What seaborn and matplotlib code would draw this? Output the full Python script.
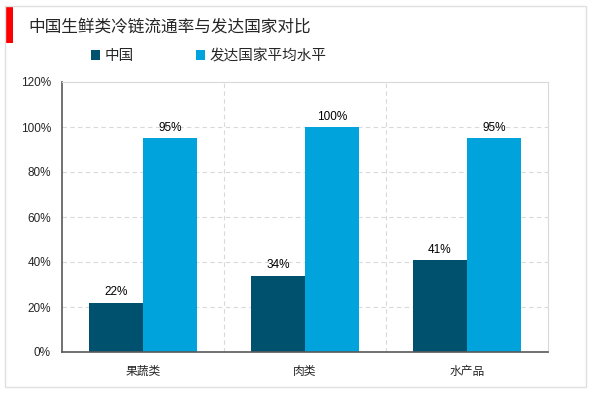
import pandas as pd
import numpy as np
import matplotlib
matplotlib.use('Agg')
import matplotlib.pyplot as plt
from matplotlib.patches import Rectangle, Patch
import seaborn as sns

# data
categories = ['果蔬类', '肉类', '水产品']
series_names = ['中国', '发达国家平均水平']
china = [22, 34, 41]
developed = [95, 100, 95]
y_ticks = [0, 20, 40, 60, 80, 100, 120]
colors = ['#00516E', '#00A3DB']
title = '中国生鲜类冷链流通率与发达国家对比'

df = pd.DataFrame({
    'category': categories * 2,
    'series': [series_names[0]] * 3 + [series_names[1]] * 3,
    'value': china + developed,
})

sns.set_theme(style='white')
plt.rcParams['font.family'] = ['Liberation Sans', 'Noto Sans CJK SC', 'DejaVu Sans']

W, H = 600, 393
fig = plt.figure(figsize=(6, 3.93), dpi=100)
ax = fig.add_axes([62 / W, 1 - 352 / H, (548 - 62) / W, (352 - 82) / H])

sns.barplot(data=df, x='category', y='value', hue='series', order=categories,
            hue_order=series_names, palette=colors, width=0.667, saturation=1,
            ax=ax, legend=False, linewidth=0)

for cont in ax.containers:
    ax.bar_label(cont, labels=[f'{v:.0f}%' for v in cont.datavalues],
                 padding=3, fontsize=8.5, color='#000000')

ax.set_ylim(0, 120)
ax.set_xlim(-0.5, 2.5)
ax.set_yticks(y_ticks)
ax.set_yticklabels([f'{t}%' for t in y_ticks], fontsize=8.5)
ax.tick_params(axis='x', labelsize=8.5, pad=10, length=0)
ax.tick_params(axis='y', pad=8, length=0)
ax.set_xlabel('')
ax.set_ylabel('')

# grid
for t in y_ticks[1:-1]:
    ax.axhline(t, color='#d9d9d9', lw=0.8, ls=(0, (4, 3)), zorder=0)
for xb in [0.5, 1.5]:
    ax.axvline(xb, color='#d9d9d9', lw=0.8, ls=(0, (4, 3)), zorder=0)

for s in ['left', 'bottom']:
    ax.spines[s].set_color('#595959')
    ax.spines[s].set_linewidth(1.2)
for s in ['top', 'right']:
    ax.spines[s].set_color('#d9d9d9')
    ax.spines[s].set_linewidth(0.8)

# legend
handles = [Patch(facecolor=c, edgecolor='none') for c in colors]
fig.legend(handles, series_names, loc='center left',
           bbox_to_anchor=(78 / W, 1 - 56 / H), ncol=2, frameon=False,
           fontsize=10.5, handlelength=0.6, handleheight=0.6, handletextpad=0.3,
           columnspacing=4.3)

# title and frame
fig.text(28 / W, 1 - 27 / H, title, fontsize=12, va='center', ha='left')
fig.patches.append(Rectangle((5 / W, 1 - 43 / H), 8 / W, 37 / H,
                             transform=fig.transFigure, facecolor='#FF0000',
                             edgecolor='none'))
fig.patches.append(Rectangle((5 / W, 1 - 387 / H), 581 / W, 381 / H,
                             transform=fig.transFigure, facecolor='none',
                             edgecolor='#e0e0e0', lw=1))

fig.savefig('out.png', dpi=100)
